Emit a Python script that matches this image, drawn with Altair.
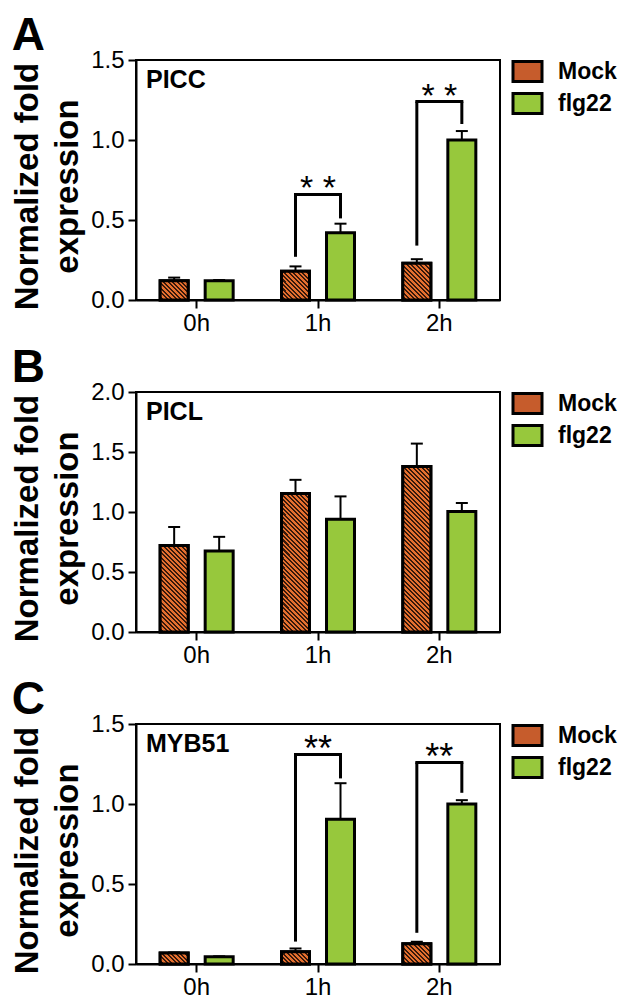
import altair as alt
import pandas as pd

FONT = "Liberation Sans"
ORANGE = "#E6702F"
DARK = "#38190B"
MOCK_SWATCH = "#C65C2C"
GREEN = "#97C83C"

PLOT_W = 364
PLOT_H = 240
BAR_W = 28

times = ["0h", "1h", "2h"]
treatments = ["Mock", "flg22"]

# ---- Panel A: PICC ----
picc_mock = [0.12, 0.18, 0.23]
picc_mock_err = [0.02, 0.03, 0.025]
picc_flg = [0.12, 0.42, 1.00]
picc_flg_err = [0.005, 0.057, 0.056]
picc_sig_times = ["1h", "2h"]
picc_sig_mock_low = [0.27, 0.34]
picc_sig_top = [0.66, 1.24]
picc_sig_flg_low = [0.51, 1.10]
picc_sig_label = ["*  *", "*  *"]

# ---- Panel B: PICL ----
picl_mock = [0.72, 1.155, 1.38]
picl_mock_err = [0.155, 0.113, 0.19]
picl_flg = [0.675, 0.94, 1.005]
picl_flg_err = [0.118, 0.19, 0.07]

# ---- Panel C: MYB51 ----
myb_mock = [0.069, 0.077, 0.126]
myb_mock_err = [0.003, 0.02, 0.013]
myb_flg = [0.045, 0.905, 1.0]
myb_flg_err = [0.003, 0.225, 0.024]
myb_sig_times = ["1h", "2h"]
myb_sig_mock_low = [0.14, 0.195]
myb_sig_top = [1.31, 1.26]
myb_sig_flg_low = [1.16, 1.07]
myb_sig_label = ["**", "**"]


def hatch(w, h, period=4.5, dark_frac=0.45):
    """Diagonal '\\' stripes as a linear gradient in bounding-box units."""
    h = max(h, 1.0)
    k = (w + h) / (w * w + h * h)
    x2 = w * k
    y2 = 1 - h * k
    n = (w + h) / period
    stops = []
    i = 0
    while i / n < 1:
        t0 = round(i / n, 5)
        t1 = round(min((i + 1 - dark_frac) / n, 1), 5)
        t2 = round(min((i + 1) / n, 1), 5)
        stops += [(ORANGE, t0), (ORANGE, t1), (DARK, t1), (DARK, t2)]
        i += 1
    return alt.LinearGradient(
        gradient="linear",
        stops=[alt.GradientStop(color=c, offset=o) for c, o in stops],
        x1=0, y1=1, x2=round(x2, 5), y2=round(y2, 5),
    )


def panel(letter, gene, mock, mock_err, flg, flg_err, ymax, yvals,
          sig_times=None, sig_ml=None, sig_top=None, sig_fl=None, sig_lab=None,
          star_size=34, star_dy=5):
    rows = []
    for i, t in enumerate(times):
        rows.append({"time": t, "trt": "Mock", "value": mock[i], "upper": mock[i] + mock_err[i]})
        rows.append({"time": t, "trt": "flg22", "value": flg[i], "upper": flg[i] + flg_err[i]})
    df = pd.DataFrame(rows)

    xenc = alt.X("time:N",
                 scale=alt.Scale(domain=times, paddingInner=0, paddingOuter=0),
                 axis=alt.Axis(title=None, labelAngle=0, labelPadding=3))
    xoff = alt.XOffset("trt:N",
                       scale=alt.Scale(domain=treatments, paddingInner=0.378, paddingOuter=0.537))
    yscale = alt.Scale(domain=[0, ymax], nice=False, zero=True)
    yaxis = alt.Axis(values=yvals, format=".1f", title=["Normalized fold", "expression"],
                     titleLineHeight=40, titlePadding=6, labelPadding=4,
                     titleY=PLOT_H / 2 + 6)

    def Y(field):
        return alt.Y(field, scale=yscale, axis=yaxis, title=["Normalized fold", "expression"])

    base = alt.Chart(df)
    bars = base.mark_bar(stroke="black", strokeWidth=3, strokeJoin="miter", opacity=1).encode(
        x=xenc, xOffset=xoff, y=Y("value:Q"),
        color=alt.Color("trt:N",
                        scale=alt.Scale(domain=treatments, range=[MOCK_SWATCH, GREEN]),
                        legend=alt.Legend(
                            title=None, orient="right", offset=16, padding=0,
                            symbolType="M-1.45,-1L1.45,-1L1.45,1L-1.45,1Z",
                            symbolSize=400, symbolStrokeWidth=3, symbolStrokeColor="black",
                            symbolOpacity=1,
                            labelFont=FONT, labelFontSize=23, labelFontWeight="bold",
                            labelColor="black", labelOffset=19, rowPadding=-1)),
    )
    layers = [bars]
    ppu = PLOT_H / ymax
    for i, t in enumerate(times):
        layers.append(
            base.transform_filter((alt.datum.time == t) & (alt.datum.trt == "Mock"))
            .mark_bar(fill=hatch(BAR_W, mock[i] * ppu), stroke="black", strokeWidth=3,
                      strokeJoin="miter", opacity=1)
            .encode(x=xenc, xOffset=xoff, y=Y("value:Q"))
        )
    err = base.mark_rule(color="black", strokeWidth=2, opacity=1).encode(
        x=xenc, xOffset=xoff, y=Y("value:Q"), y2="upper:Q")
    cap = base.mark_tick(color="black", thickness=2, size=12, opacity=1).encode(
        x=xenc, xOffset=xoff, y=Y("upper:Q"))
    layers = [err, cap] + layers

    if sig_times:
        legs = []
        for j, t in enumerate(sig_times):
            legs.append({"time": t, "trt": "Mock", "lo": sig_ml[j], "hi": sig_top[j]})
            legs.append({"time": t, "trt": "flg22", "lo": sig_fl[j], "hi": sig_top[j]})
        ldf = pd.DataFrame(legs)
        sdf = pd.DataFrame({"time": sig_times, "top": sig_top, "label": sig_lab})
        layers.append(alt.Chart(ldf).mark_rule(color="black", strokeWidth=3, strokeCap="butt",
                                               opacity=1).encode(
            x=xenc, xOffset=xoff, y=Y("lo:Q"), y2="hi:Q"))
        layers.append(alt.Chart(sdf).mark_tick(color="black", thickness=3, size=48,
                                               opacity=1).encode(
            x=xenc, y=Y("top:Q")))
        layers.append(alt.Chart(sdf).mark_text(font=FONT, fontSize=star_size, color="black",
                                               baseline="alphabetic", dy=star_dy).encode(
            x=xenc, y=Y("top:Q"), text="label:N"))

    gdf = pd.DataFrame({"gene": [gene]})
    layers.append(alt.Chart(gdf).mark_text(font=FONT, fontSize=25, fontWeight="bold",
                                           color="black", align="left",
                                           baseline="alphabetic").encode(
        x=alt.value(10), y=alt.value(28), text="gene:N"))

    return alt.layer(*layers).properties(
        width=PLOT_W, height=PLOT_H,
        title=alt.TitleParams(letter, anchor="start", frame="bounds", fontSize=46,
                              fontWeight="bold", font=FONT, color="black", offset=-12),
    )


pA = panel("A", "PICC", picc_mock, picc_mock_err, picc_flg, picc_flg_err, 1.5,
           [0, 0.5, 1.0, 1.5], picc_sig_times, picc_sig_mock_low, picc_sig_top,
           picc_sig_flg_low, picc_sig_label, star_size=34, star_dy=5)
pB = panel("B", "PICL", picl_mock, picl_mock_err, picl_flg, picl_flg_err, 2.0,
           [0, 0.5, 1.0, 1.5, 2.0])
pC = panel("C", "MYB51", myb_mock, myb_mock_err, myb_flg, myb_flg_err, 1.5,
           [0, 0.5, 1.0, 1.5], myb_sig_times, myb_sig_mock_low, myb_sig_top,
           myb_sig_flg_low, myb_sig_label, star_size=36, star_dy=7)

chart = (
    alt.vconcat(pA, pB, pC, spacing=8)
    .resolve_scale(color="independent")
    .resolve_legend(color="independent")
    .properties(padding={"left": 2, "top": 4, "right": 0, "bottom": 0}, background="white")
    .configure_view(stroke="black", strokeWidth=2)
    .configure_axis(domainColor="black", domainWidth=2, tickColor="black", tickWidth=2,
                    tickSize=8, labelFont=FONT, labelFontSize=24, labelColor="black",
                    grid=False, titleFont=FONT, titleFontSize=33, titleFontWeight="bold",
                    titleColor="black")
)

chart.save("out.html", embed_options={"renderer": "svg", "actions": False})
